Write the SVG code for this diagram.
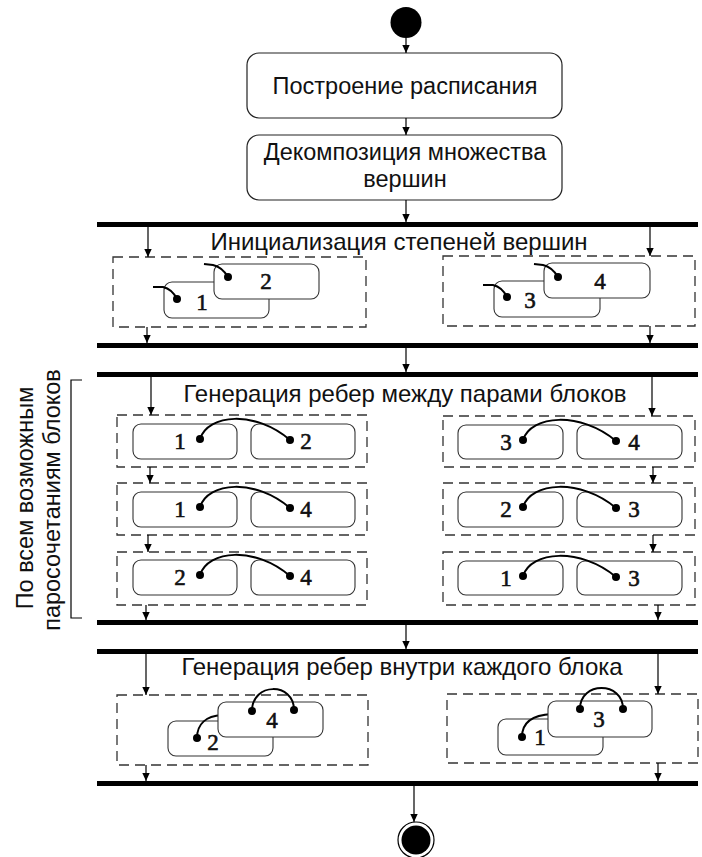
<svg xmlns="http://www.w3.org/2000/svg" width="702" height="857" viewBox="0 0 702 857">
<defs>
<marker id="ah" viewBox="0 0 8 8" refX="8" refY="4" markerWidth="8" markerHeight="8" markerUnits="userSpaceOnUse" orient="auto">
<path d="M0,0.3 L8,4 L0,7.7 z" fill="#000"/>
</marker>
</defs>
<style>
.t{font-family:"Liberation Sans",Arial,sans-serif;font-size:23.5px;fill:#111;text-anchor:middle}
.h{font-size:24px}
.d{font-family:"Liberation Serif","Times New Roman",serif;font-size:23px;fill:#111;stroke:#111;stroke-width:0.6;text-anchor:middle}
.box{fill:#fff;stroke:#222;stroke-width:1.2}
.ib{fill:#fff;stroke:#333;stroke-width:1.1}
.dash{fill:none;stroke:#333;stroke-width:1.3;stroke-dasharray:10 6}
.bar{fill:#000}
.c{fill:none;stroke:#000;stroke-width:1.2;marker-end:url(#ah)}
.e{fill:none;stroke:#000;stroke-width:2}
.dot{fill:#000}
</style>
<rect width="702" height="857" fill="#fff"/>

<g id="start"><circle cx="406" cy="22.5" r="15.5" fill="#000"/></g>

<g id="build-schedule">
<rect class="box" x="247" y="53" width="315" height="65" rx="12"/>
<text class="t" x="405" y="94">Построение расписания</text>
</g>
<g id="decompose">
<rect class="box" x="247" y="135" width="315" height="65" rx="12"/>
<text class="t" x="405" y="160">Декомпозиция множества</text>
<text class="t" x="405" y="187">вершин</text>
</g>

<g id="bars">
<rect class="bar" x="97" y="222" width="601" height="5"/>
<rect class="bar" x="97" y="343" width="601" height="5"/>
<rect class="bar" x="97" y="372" width="601" height="5"/>
<rect class="bar" x="97" y="620" width="601" height="5"/>
<rect class="bar" x="97" y="649" width="601" height="5"/>
<rect class="bar" x="97" y="781" width="601" height="5"/>
</g>

<g id="init">
<text class="t h" x="399" y="250">Инициализация степеней вершин</text>
<g id="init-left">
<rect class="dash" x="113" y="257" width="253" height="70"/>
<rect class="ib" x="164" y="282" width="105" height="36" rx="8"/>
<path class="e" d="M153,287 L163,287 Q172,289 177,299"/>
<circle class="dot" cx="177" cy="299" r="4"/>
<text class="d" x="202" y="310">1</text>
<rect class="ib" x="214" y="264" width="105" height="35" rx="8"/>
<path class="e" d="M204,264 L213,265 Q222,267 228,277"/>
<circle class="dot" cx="228" cy="277" r="4"/>
<text class="d" x="266" y="289">2</text>
</g>
<g id="init-right">
<rect class="dash" x="443" y="256" width="252" height="70"/>
<rect class="ib" x="494" y="281" width="106" height="36" rx="8"/>
<path class="e" d="M483,285 L493,285 Q502,287 507,297"/>
<circle class="dot" cx="507" cy="297" r="4"/>
<text class="d" x="530" y="308">3</text>
<rect class="ib" x="544" y="263" width="106" height="35" rx="8"/>
<path class="e" d="M534,264 L543,265 Q552,267 558,277"/>
<circle class="dot" cx="558" cy="277" r="4"/>
<text class="d" x="600" y="289">4</text>
</g>
</g>

<g id="pairs-label">
<text class="t" transform="translate(33,498) rotate(-90)">По всем возможным</text>
<text class="t" transform="translate(60,500) rotate(-90)">паросочетаниям блоков</text>
<path d="M82,380 L71,380 L71,618 L82,618" fill="none" stroke="#000" stroke-width="1.2"/>
</g>

<g id="pairs">
<text class="t h" x="405" y="402">Генерация ребер между парами блоков</text>
<g id="pair-1-2">
<rect class="dash" x="117" y="415" width="250" height="52"/>
<rect class="ib" x="133" y="424" width="104" height="35" rx="8"/>
<rect class="ib" x="251" y="424" width="104" height="35" rx="8"/>
<path class="e" d="M200,439 C208,414 255,410 290,440"/>
<circle class="dot" cx="200" cy="439" r="4"/><circle class="dot" cx="290" cy="440" r="4"/>
<text class="d" x="180" y="449">1</text><text class="d" x="306" y="449">2</text>
</g>
<g id="pair-1-4">
<rect class="dash" x="117" y="483" width="250" height="52"/>
<rect class="ib" x="133" y="492" width="104" height="35" rx="8"/>
<rect class="ib" x="251" y="492" width="104" height="35" rx="8"/>
<path class="e" d="M200,507 C208,482 255,478 290,508"/>
<circle class="dot" cx="200" cy="507" r="4"/><circle class="dot" cx="290" cy="508" r="4"/>
<text class="d" x="180" y="517">1</text><text class="d" x="306" y="517">4</text>
</g>
<g id="pair-2-4">
<rect class="dash" x="117" y="552" width="250" height="53"/>
<rect class="ib" x="133" y="560" width="104" height="35" rx="8"/>
<rect class="ib" x="251" y="560" width="104" height="35" rx="8"/>
<path class="e" d="M200,575 C208,550 255,546 290,576"/>
<circle class="dot" cx="200" cy="575" r="4"/><circle class="dot" cx="290" cy="576" r="4"/>
<text class="d" x="180" y="585">2</text><text class="d" x="306" y="585">4</text>
</g>
<g id="pair-3-4">
<rect class="dash" x="443" y="416" width="252" height="51"/>
<rect class="ib" x="458" y="425" width="105" height="34" rx="8"/>
<rect class="ib" x="577" y="425" width="105" height="34" rx="8"/>
<path class="e" d="M523,440 C531,415 580,411 616,441"/>
<circle class="dot" cx="523" cy="440" r="4"/><circle class="dot" cx="616" cy="441" r="4"/>
<text class="d" x="506" y="450">3</text><text class="d" x="634" y="450">4</text>
</g>
<g id="pair-2-3">
<rect class="dash" x="443" y="483" width="252" height="52"/>
<rect class="ib" x="458" y="492" width="105" height="35" rx="8"/>
<rect class="ib" x="577" y="492" width="105" height="35" rx="8"/>
<path class="e" d="M523,507 C531,482 580,478 616,508"/>
<circle class="dot" cx="523" cy="507" r="4"/><circle class="dot" cx="616" cy="508" r="4"/>
<text class="d" x="506" y="517">2</text><text class="d" x="634" y="517">3</text>
</g>
<g id="pair-1-3">
<rect class="dash" x="443" y="552" width="252" height="53"/>
<rect class="ib" x="458" y="561" width="105" height="34" rx="8"/>
<rect class="ib" x="577" y="561" width="105" height="34" rx="8"/>
<path class="e" d="M523,576 C531,551 580,547 616,577"/>
<circle class="dot" cx="523" cy="576" r="4"/><circle class="dot" cx="616" cy="577" r="4"/>
<text class="d" x="506" y="586">1</text><text class="d" x="634" y="586">3</text>
</g>
</g>

<g id="inner">
<text class="t h" x="402" y="675">Генерация ребер внутри каждого блока</text>
<g id="inner-left">
<rect class="dash" x="117" y="695" width="251" height="70"/>
<rect class="ib" x="168" y="721" width="105" height="35" rx="8"/>
<path class="e" d="M197,738 C197,724 206,716 222,715"/>
<circle class="dot" cx="197" cy="738" r="4"/>
<text class="d" x="213" y="750">2</text>
<rect class="ib" x="218" y="702" width="105" height="35" rx="8"/>
<path class="e" d="M252,711 C252,682 294,682 294,710"/>
<circle class="dot" cx="252" cy="711" r="4"/><circle class="dot" cx="294" cy="710" r="4"/>
<text class="d" x="272" y="728">4</text>
</g>
<g id="inner-right">
<rect class="dash" x="447" y="694" width="251" height="69"/>
<rect class="ib" x="498" y="719" width="105" height="36" rx="8"/>
<path class="e" d="M522,737 C522,723 531,715 552,714"/>
<circle class="dot" cx="522" cy="737" r="4"/>
<text class="d" x="540" y="745">1</text>
<rect class="ib" x="548" y="701" width="104" height="36" rx="8"/>
<path class="e" d="M580,709 C580,681 623,681 623,709"/>
<circle class="dot" cx="580" cy="709" r="4"/><circle class="dot" cx="623" cy="709" r="4"/>
<text class="d" x="599" y="727">3</text>
</g>
</g>

<g id="end">
<circle cx="416" cy="840" r="18" fill="#fff" stroke="#000" stroke-width="1.2"/>
<circle cx="416" cy="840" r="14.5" fill="#000"/>
</g>

<g id="connectors">
<path class="c" d="M406,38 L406,53"/>
<path class="c" d="M406,118 L406,135"/>
<path class="c" d="M406,200 L406,222"/>
<path class="c" d="M148,227 L148,257"/>
<path class="c" d="M650,227 L650,256"/>
<path class="c" d="M147,327 L147,343"/>
<path class="c" d="M650,326 L650,343"/>
<path class="c" d="M406,348 L406,372"/>
<path class="c" d="M151,377 L151,415"/>
<path class="c" d="M150,467 L150,483"/>
<path class="c" d="M148,535 L148,552"/>
<path class="c" d="M146,605 L146,620"/>
<path class="c" d="M652,377 L652,416"/>
<path class="c" d="M653,467 L653,483"/>
<path class="c" d="M653,535 L653,552"/>
<path class="c" d="M658,605 L658,620"/>
<path class="c" d="M406,625 L406,649"/>
<path class="c" d="M146,654 L146,695"/>
<path class="c" d="M658,654 L658,694"/>
<path class="c" d="M146,765 L146,781"/>
<path class="c" d="M658,763 L658,781"/>
<path class="c" d="M414,786 L414,822"/>
</g>
</svg>
